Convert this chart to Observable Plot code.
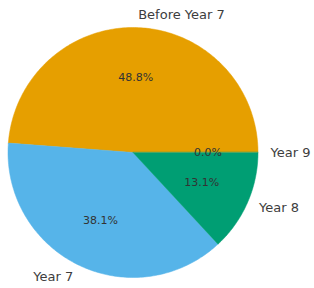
<!DOCTYPE html>
<html><head><meta charset="utf-8">
<script src="https://cdn.jsdelivr.net/npm/d3@7"></script>
<script src="https://cdn.jsdelivr.net/npm/@observablehq/plot@0.6"></script>
<style>body{margin:0;background:#fff;} svg{display:block;}</style>
</head><body><div id="chart"></div>
<script>
const labels = ["Before Year 7", "Year 7", "Year 8", "Year 9"];
const values = [48.8, 38.1, 13.1, 0.0];
const colors = ["#E69F00", "#56B4E9", "#009E73", "#F0E442"];

const total = d3.sum(values);
let acc = 0;
const slices = labels.map((label, i) => {
  const a0 = acc / total * 2 * Math.PI;
  acc += values[i];
  const a1 = acc / total * 2 * Math.PI;
  const mid = (a0 + a1) / 2;
  return {label, value: values[i], color: colors[i], a0, a1, mid,
    lx: 1.1 * Math.cos(mid), ly: 1.1 * Math.sin(mid),
    px: 0.6 * Math.cos(mid), py: 0.6 * Math.sin(mid),
    pct: (values[i] / total * 100).toFixed(1) + "%"};
});

function slicePoints(s) {
  const pts = [{x: 0, y: 0}];
  const n = Math.max(2, Math.ceil((s.a1 - s.a0) / (Math.PI / 180)) + 1);
  for (let k = 0; k <= n; k++) {
    const a = s.a0 + (s.a1 - s.a0) * k / n;
    pts.push({x: Math.cos(a), y: Math.sin(a)});
  }
  return pts;
}

const R = 125, cx = 132.5, cy = 152, W = 314, H = 288;
const font = "DejaVu Sans";

const marks = slices.filter(s => s.value > 0).map(s =>
  Plot.line(slicePoints(s), {x: "x", y: "y", fill: s.color, stroke: s.color, strokeWidth: 0.5, curve: "linear-closed"})
);
marks.push(
  Plot.text(slices, {x: "px", y: "py", text: "pct", fontSize: 11, fill: "#333333", fontFamily: font}),
  Plot.text(slices.filter(s => s.lx >= 0), {x: "lx", y: "ly", text: "label", textAnchor: "start", fontSize: 13, fill: "#3d3d3d", fontFamily: font}),
  Plot.text(slices.filter(s => s.lx < 0), {x: "lx", y: "ly", text: "label", textAnchor: "end", fontSize: 13, fill: "#3d3d3d", fontFamily: font})
);

const chart = Plot.plot({
  width: W, height: H, margin: 0,
  style: {background: "#fff", fontFamily: font},
  x: {domain: [-cx / R, (W - cx) / R], range: [0, W], axis: null},
  y: {domain: [-(H - cy) / R, cy / R], range: [H, 0], axis: null},
  marks
});
document.getElementById("chart").appendChild(chart);
</script>
</body></html>
